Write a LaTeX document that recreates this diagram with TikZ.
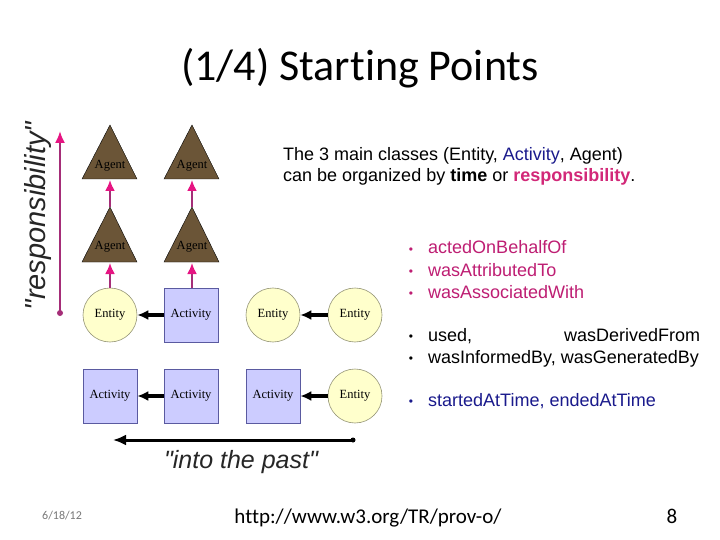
\documentclass[tikz,border=0pt]{standalone}
\usepackage{fontspec}
\setmainfont{Liberation Sans}[Ligatures=TeXOff]
\newfontfamily\calib{Carlito}[Ligatures={NoCommon,TeXOff}]
\newfontfamily\tnr{Liberation Serif}
\usetikzlibrary{arrows.meta}
\definecolor{agentbrown}{RGB}{107,85,55}
\definecolor{entfill}{RGB}{255,255,204}
\definecolor{entdraw}{RGB}{150,150,120}
\definecolor{actfill}{RGB}{204,204,255}
\definecolor{actdraw}{RGB}{90,90,160}
\definecolor{magstem}{RGB}{165,45,120}
\definecolor{magtip}{RGB}{230,20,130}
\definecolor{magtext}{RGB}{190,30,115}
\definecolor{pinktext}{RGB}{210,40,120}
\definecolor{bluetext}{RGB}{26,26,140}
\definecolor{dategray}{RGB}{120,120,120}
\begin{document}
\begin{tikzpicture}[x=1pt,y=-1pt,
  shapefont/.style={font=\tnr\fontsize{12.5}{14}\selectfont},
  entity/.style={circle,draw=entdraw,line width=0.6pt,fill=entfill,minimum size=54pt,inner sep=0pt,shapefont},
  activity/.style={rectangle,draw=actdraw,line width=0.6pt,fill=actfill,minimum size=54pt,inner sep=0pt,shapefont},
  agentbox/.style={fill=agentbrown,draw=black,line width=0.4pt},
  agentlbl/.style={inner sep=0pt,shapefont},
  timearrow/.style={line width=3.5pt,-{Latex[length=11pt,width=10pt]}},
  resparrow/.style={magstem,line width=2pt,-{Latex[length=11pt,width=10pt,color=magtip]}},
  bodytext/.style={inner sep=0pt,anchor=base west,font=\fontsize{18}{22}\selectfont},
  bul/.style={inner sep=0pt,anchor=base,font=\fontsize{12}{14}\selectfont},
]
\useasboundingbox (0,0) rectangle (720,540);
\fill[white] (0,0) rectangle (720,540);

% title
\node[inner sep=0pt,anchor=base,font=\calib\fontsize{44}{50}\selectfont] (title) at (360,81) {(1/4) Starting Points};

% responsibility axis
\node[inner sep=0pt,rotate=90,font=\itshape\fontsize{29}{34}\selectfont,text=black!85] (resp) at (38,216) {"responsibility"};
\coordinate (rbot) at (60,313);
\coordinate (rtop) at (60,131);
\fill[magstem] (rbot) circle (3pt);
\draw[magstem,line width=2pt,-{Latex[length=12pt,width=10pt,color=magtip]}] (rbot) -- (rtop);

% agents (triangles)
\fill[agentbox] (82,179) -- (110,125) -- (137,179) -- cycle;
\fill[agentbox] (164,179) -- (192,125) -- (219,179) -- cycle;
\fill[agentbox] (82,262) -- (110,207) -- (137,262) -- cycle;
\fill[agentbox] (164,262) -- (192,207) -- (219,262) -- cycle;
\node[agentlbl] (ag1) at (110,166) {Agent};
\node[agentlbl] (ag2) at (192,166) {Agent};
\node[agentlbl] (ag3) at (110,247) {Agent};
\node[agentlbl] (ag4) at (192,247) {Agent};
\coordinate (ag1b) at (110,180);
\coordinate (ag2b) at (192,180);
\coordinate (ag3t) at (110,207);
\coordinate (ag4t) at (192,207);
\coordinate (ag3b) at (110,263);
\coordinate (ag4b) at (192,263);

% row 3
\node[entity] (e1) at (110,315) {Entity};
\node[activity] (a1) at (191,315) {Activity};
\node[entity] (e2) at (273,315) {Entity};
\node[entity] (e3) at (355,315) {Entity};

% row 4
\node[activity] (a2) at (110,396) {Activity};
\node[activity] (a3) at (191,396) {Activity};
\node[activity] (a4) at (273,396) {Activity};
\node[entity] (e4) at (355,396) {Entity};

% responsibility arrows
\draw[resparrow] (e1.north) -- (ag3b);
\draw[resparrow] (a1.north -| ag4b) -- (ag4b);
\draw[resparrow] (ag3t) -- (ag1b);
\draw[resparrow] (ag4t) -- (ag2b);

% time arrows
\draw[timearrow] (a1.west) -- (e1.east);
\draw[timearrow] (e3.west) -- (e2.east);
\draw[timearrow] (a3.west) -- (a2.east);
\draw[timearrow] (e4.west) -- (a4.east);

% into the past
\coordinate (pstart) at (353,440);
\coordinate (pend) at (113,440);
\fill (pstart) circle (2.5pt);
\draw[line width=3pt,-{Latex[length=13pt,width=11pt]}] (pstart) -- (pend);
\node[inner sep=0pt,anchor=base,font=\itshape\fontsize{25}{28}\selectfont,text=black!85] (past) at (241,468) {"into the past"};

% explanatory text
\node[bodytext] (t1) at (283,161) {The 3 main classes (Entity, \textcolor{bluetext}{Activity}, Agent)};
\node[bodytext] (t2) at (283,182) {can be organized by \textbf{time} or \textcolor{pinktext}{\textbf{responsibility}}.};

\node[bul,text=magtext] (b1) at (411,253) {•};
\node[bodytext,text=magtext] (l1) at (428,254) {actedOnBehalfOf};
\node[bul,text=magtext] (b2) at (411,275) {•};
\node[bodytext,text=magtext] (l2) at (428,276) {wasAttributedTo};
\node[bul,text=magtext] (b3) at (411,297) {•};
\node[bodytext,text=magtext] (l3) at (428,298) {wasAssociatedWith};

\node[bul] (b4) at (411,340) {•};
\node[bodytext] (l4) at (428,341) {\makebox[272pt][s]{used,\hfill wasDerivedFrom}};
\node[bul] (b5) at (411,362) {•};
\node[bodytext] (l5) at (428,363) {wasInformedBy, wasGeneratedBy};

\node[bul,text=bluetext] (b6) at (411,405) {•};
\node[bodytext,text=bluetext] (l6) at (428,406) {startedAtTime, endedAtTime};

% footer
\node[inner sep=0pt,anchor=base west,font=\calib\fontsize{12}{14}\selectfont,text=dategray] (date) at (42,519) {6/18/12};
\node[inner sep=0pt,anchor=base,font=\calib\fontsize{21}{24}\selectfont] (url) at (368,523) {http://www.w3.org/TR/prov-o/};
\node[inner sep=0pt,anchor=base,font=\calib\fontsize{21}{24}\selectfont] (pg) at (672,523) {8};
\end{tikzpicture}
\end{document}
